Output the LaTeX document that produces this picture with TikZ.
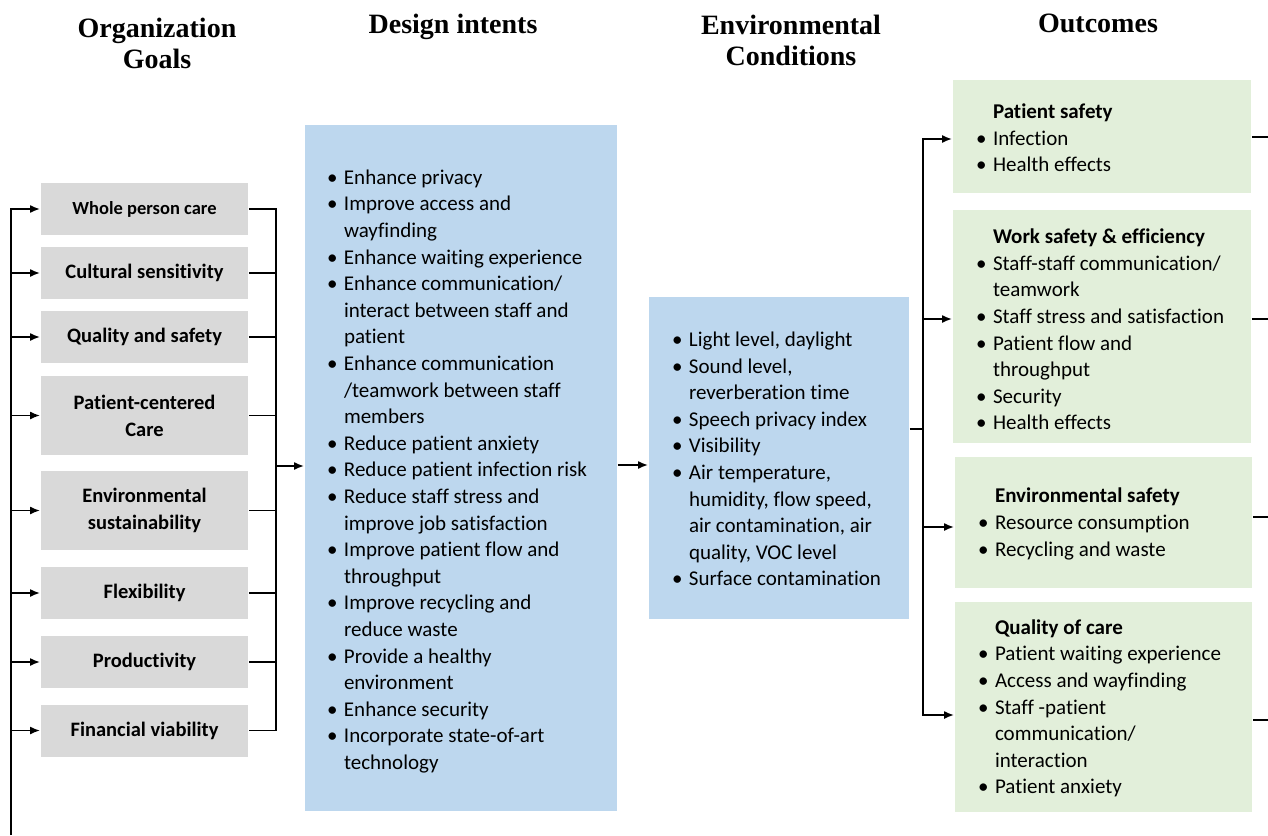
\documentclass[tikz,border=0pt]{standalone}
\usepackage{fontspec}
\setmainfont{Carlito}[Ligatures=NoCommon]
\newfontfamily\headfont{Liberation Serif}
\usetikzlibrary{arrows.meta, positioning}

\definecolor{goalgray}{HTML}{D9D9D9}
\definecolor{intentblue}{HTML}{BDD7EE}
\definecolor{outgreen}{HTML}{E2EFDA}

\newcommand{\itm}{\makebox[17pt][l]{\textbullet}}
\newcommand{\cnt}{\hspace*{17pt}}

\begin{document}
\begin{tikzpicture}
  [
    x=1pt, y=-1pt,
    line width=1.8pt,
    >={Latex[length=10pt,width=8pt]},
    heading/.style={font=\headfont\bfseries\fontsize{28}{31}\selectfont, align=center},
    goal/.style={fill=goalgray, minimum width=207pt, inner sep=0pt, align=center,
      font=\bfseries\fontsize{20.5}{27}\selectfont},
    block/.style={fill=#1, inner sep=0pt},
    list/.style={inner sep=0pt, align=left, font=\fontsize{21}{26.6}\selectfont}
  ]
  \useasboundingbox (0,0) rectangle (1268,835);

  % column titles
  \node[heading] (hgoal) at (157,43.5) {Organization\\Goals};
  \node[heading] (hintent) at (453,27) {Design intents};
  \node[heading] (hcond) at (791,40.5) {Environmental\\Conditions};
  \node[heading] (hout) at (1098,23) {Outcomes};

  % goals
  \node[goal, minimum height=52pt, font=\bfseries\fontsize{18.5}{24}\selectfont] (g1) at (144.5,209) {Whole person care};
  \node[goal, minimum height=52pt] (g2) at (144.5,273) {Cultural sensitivity};
  \node[goal, minimum height=52pt] (g3) at (144.5,337) {Quality and safety};
  \node[goal, minimum height=79pt] (g4) at (144.5,415.5) {Patient-centered\\Care};
  \node[goal, minimum height=79pt] (g5) at (144.5,510.5) {Environmental\\sustainability};
  \node[goal, minimum height=52pt] (g6) at (144.5,593) {Flexibility};
  \node[goal, minimum height=52pt] (g7) at (144.5,662) {Productivity};
  \node[goal, minimum height=52pt] (g8) at (144.5,730.5) {Financial viability};

  % design intents
  \node[block=intentblue, minimum width=312pt, minimum height=686pt] (intent) at (461,468) {};
  \node[list, right=22pt of intent.west, yshift=-3.5pt] (intenttext) {%
    \itm Enhance privacy\\
    \itm Improve access and\\ \cnt wayfinding\\
    \itm Enhance waiting experience\\
    \itm Enhance communication/\\ \cnt interact between staff and\\ \cnt patient\\
    \itm Enhance communication\\ \cnt /teamwork between staff\\ \cnt members\\
    \itm Reduce patient anxiety\\
    \itm Reduce patient infection risk\\
    \itm Reduce staff stress and\\ \cnt improve job satisfaction\\
    \itm Improve patient flow and\\ \cnt throughput\\
    \itm Improve recycling and\\ \cnt reduce waste\\
    \itm Provide a healthy\\ \cnt environment\\
    \itm Enhance security\\
    \itm Incorporate state-of-art\\ \cnt technology};

  % environmental conditions
  \node[block=intentblue, minimum width=260pt, minimum height=322pt] (cond) at (779,458) {};
  \node[list, right=23pt of cond.west, yshift=-1pt] (condtext) {%
    \itm Light level, daylight\\
    \itm Sound level,\\ \cnt reverberation time\\
    \itm Speech privacy index\\
    \itm Visibility\\
    \itm Air temperature,\\ \cnt humidity, flow speed,\\ \cnt air contamination, air\\ \cnt quality, VOC level\\
    \itm Surface contamination};

  % outcomes
  \node[block=outgreen, minimum width=298pt, minimum height=113pt] (o1) at (1102,136.5) {};
  \node[list, right=23pt of o1.west, yshift=-1.5pt] (o1text) {%
    \cnt\textbf{Patient safety}\\
    \itm Infection\\
    \itm Health effects};
  \node[block=outgreen, minimum width=298pt, minimum height=233pt] (o2) at (1102,326.5) {};
  \node[list, right=23pt of o2.west, yshift=-3pt] (o2text) {%
    \cnt\textbf{Work safety \& efficiency}\\
    \itm Staff-staff communication/\\ \cnt teamwork\\
    \itm Staff stress and satisfaction\\
    \itm Patient flow and\\ \cnt throughput\\
    \itm Security\\
    \itm Health effects};
  \node[block=outgreen, minimum width=297pt, minimum height=131pt] (o3) at (1103.5,522.5) {};
  \node[list, right=23pt of o3.west, yshift=-1.5pt] (o3text) {%
    \cnt\textbf{Environmental safety}\\
    \itm Resource consumption\\
    \itm Recycling and waste};
  \node[block=outgreen, minimum width=297pt, minimum height=210pt] (o4) at (1103.5,707) {};
  \node[list, right=23pt of o4.west, yshift=-1.5pt] (o4text) {%
    \cnt\textbf{Quality of care}\\
    \itm Patient waiting experience\\
    \itm Access and wayfinding\\
    \itm Staff -patient\\ \cnt communication/\\ \cnt interaction\\
    \itm Patient anxiety};

  % feedback line on the left
  \coordinate (lb) at (11,835);
  \draw[->] (lb) |- (g1.west);
  \foreach \i in {2,...,8}
    \draw[->] (lb |- g\i.west) -- (g\i.west);

  % goals into design intents
  \coordinate (rb) at (276,466);
  \draw (g1.east) -| (rb |- g8.east) -- (g8.east);
  \foreach \i in {2,...,7}
    \draw (g\i.east) -- (rb |- g\i.east);
  \draw[->] (rb) -- (intent.west |- rb);

  % design intents into conditions
  \draw[->] (intent.east |- 0,465) -- (cond.west |- 0,465);

  % conditions into outcomes
  \coordinate (jc) at (923,429);
  \draw (cond.east |- jc) -- (jc);
  \draw[->] (jc) |- (o1.west |- 0,139);
  \draw[->] (jc) |- (o4.west |- 0,715);
  \draw[->] (jc |- 0,319) -- (o2.west |- 0,319);
  \draw[->] (jc |- 0,527) -- (o3.west |- 0,527);

  % outcomes leading on
  \coordinate (e1) at (1268,137);
  \coordinate (e2) at (1268,319);
  \coordinate (e3) at (1268,517);
  \coordinate (e4) at (1268,720);
  \foreach \i in {1,...,4}
    \draw (o\i.east |- e\i) -- (e\i);
\end{tikzpicture}
\end{document}
